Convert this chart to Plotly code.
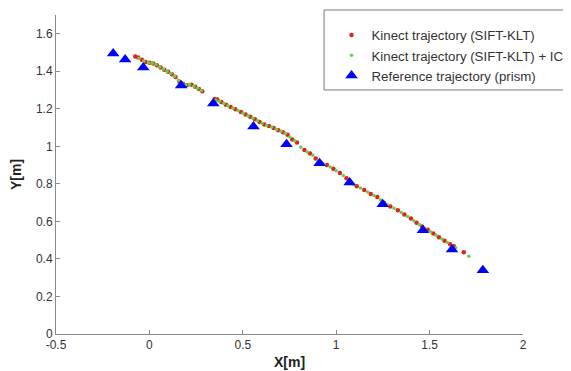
import plotly.graph_objects as go

# Kinect trajectory (SIFT-KLT)
red_x = [-0.076, -0.060, -0.040, -0.020, 0.000, 0.020, 0.040, 0.060, 0.080, 0.100, 0.120, 0.140, 0.160,
         0.180, 0.200, 0.225, 0.245, 0.265, 0.283, 0.350, 0.364, 0.385, 0.410, 0.435, 0.460, 0.490, 0.515,
         0.540, 0.565, 0.590, 0.615, 0.640, 0.665, 0.690, 0.715, 0.740, 0.765, 0.790, 0.830, 0.860, 0.890,
         0.920, 0.950, 0.985, 1.020, 1.055, 1.080, 1.110, 1.150, 1.185, 1.220, 1.255, 1.290, 1.330, 1.365,
         1.400, 1.430, 1.460, 1.490, 1.520, 1.550, 1.580, 1.610, 1.630, 1.683]
red_y = [1.479, 1.474, 1.462, 1.450, 1.445, 1.442, 1.432, 1.420, 1.408, 1.397, 1.384, 1.370, 1.346,
         1.334, 1.326, 1.328, 1.318, 1.306, 1.293, 1.252, 1.250, 1.236, 1.222, 1.210, 1.198, 1.183, 1.170,
         1.158, 1.145, 1.130, 1.116, 1.108, 1.098, 1.086, 1.075, 1.062, 1.037, 1.020, 0.980, 0.962, 0.935,
         0.910, 0.900, 0.880, 0.858, 0.830, 0.805, 0.788, 0.768, 0.746, 0.730, 0.700, 0.680, 0.660, 0.637,
         0.615, 0.593, 0.573, 0.555, 0.535, 0.516, 0.497, 0.478, 0.468, 0.436]

# Kinect trajectory (SIFT-KLT) + ICP
green_x = [-0.055, -0.030, -0.005, 0.015, 0.035, 0.055, 0.075, 0.095, 0.115, 0.135, 0.155, 0.175, 0.195,
           0.215, 0.238, 0.258, 0.278, 0.355, 0.375, 0.398, 0.420, 0.448, 0.475, 0.502, 0.528, 0.553, 0.578,
           0.603, 0.628, 0.655, 0.680, 0.705, 0.728, 0.752, 0.778, 0.810, 0.845, 0.875, 0.905, 0.935, 0.968,
           1.000, 1.038, 1.068, 1.095, 1.130, 1.168, 1.202, 1.238, 1.272, 1.310, 1.348, 1.382, 1.415, 1.445,
           1.475, 1.505, 1.535, 1.565, 1.595, 1.640, 1.710]
green_y = [1.470, 1.455, 1.446, 1.443, 1.436, 1.423, 1.411, 1.399, 1.388, 1.374, 1.352, 1.338, 1.328,
           1.330, 1.320, 1.310, 1.297, 1.246, 1.240, 1.228, 1.217, 1.203, 1.190, 1.176, 1.163, 1.150, 1.137,
           1.122, 1.111, 1.103, 1.090, 1.080, 1.068, 1.050, 1.030, 0.995, 0.970, 0.952, 0.920, 0.905, 0.890,
           0.870, 0.845, 0.815, 0.796, 0.778, 0.757, 0.738, 0.715, 0.690, 0.670, 0.648, 0.626, 0.604, 0.583,
           0.564, 0.545, 0.526, 0.506, 0.488, 0.460, 0.415]

# Reference trajectory (prism)
ref_x = [-0.194, -0.130, -0.033, 0.170, 0.342, 0.557, 0.734, 0.911, 1.072, 1.249, 1.464, 1.620, 1.785]
ref_y = [1.495, 1.463, 1.420, 1.324, 1.229, 1.106, 1.011, 0.910, 0.808, 0.691, 0.553, 0.450, 0.340]

x_ticks = [-0.5, 0, 0.5, 1, 1.5, 2]
x_tick_labels = ["-0.5", "0", "0.5", "1", "1.5", "2"]
y_ticks = [0, 0.2, 0.4, 0.6, 0.8, 1, 1.2, 1.4, 1.6]
y_tick_labels = ["0", "0.2", "0.4", "0.6", "0.8", "1", "1.2", "1.4", "1.6"]

fig = go.Figure()
fig.add_trace(go.Scatter(x=red_x, y=red_y, mode="markers", name="Kinect trajectory (SIFT-KLT)",
                         marker=dict(color="#e8201c", size=4.5)))
fig.add_trace(go.Scatter(x=green_x, y=green_y, mode="markers", name="Kinect trajectory (SIFT-KLT) + ICP",
                         marker=dict(color="#5ad84a", size=3.5)))
fig.add_trace(go.Scatter(x=ref_x, y=ref_y, mode="markers", name="Reference trajectory (prism)",
                         marker=dict(color="#0000ff", size=11, symbol="triangle-up")))

axis_common = dict(showgrid=False, zeroline=False, showline=True, linecolor="#8a8a8a", linewidth=1,
                   ticks="inside", ticklen=4, tickcolor="#8a8a8a",
                   tickfont=dict(family="Arial, Liberation Sans", size=12, color="#333333"),
                   mirror=False)

# legend frame (extends past the right edge of the picture, as in the reference)
fig.add_shape(type="rect", xref="paper", yref="paper", x0=0.574, x1=1.3, y0=0.765, y1=1.0157,
              line=dict(color="#7a7a7a", width=1), fillcolor="white", layer="above")

fig.update_layout(
    width=563, height=363,
    margin=dict(l=48, r=48, t=7, b=37, autoexpand=False),
    paper_bgcolor="white", plot_bgcolor="white",
    font=dict(family="Arial, Liberation Sans", color="#333333"),
    xaxis=dict(range=[-0.5, 2], tickvals=x_ticks, ticktext=x_tick_labels,
               title=dict(text="<b>X[m]</b>", font=dict(size=14, color="#222222"), standoff=5),
               automargin=False, **axis_common),
    yaxis=dict(range=[0, 1.7], tickvals=y_ticks, ticktext=y_tick_labels,
               title=dict(text="<b>Y[m]</b>", font=dict(size=14, color="#222222"), standoff=15),
               automargin=False, **axis_common),
    showlegend=True,
    legend=dict(x=0.590, y=0.9843, xanchor="left", yanchor="top",
                bgcolor="rgba(0,0,0,0)", borderwidth=0,
                font=dict(family="Arial, Liberation Sans", size=13.25, color="#333333"),
                itemsizing="trace", tracegroupgap=0),
)

fig.write_html("out.html")
